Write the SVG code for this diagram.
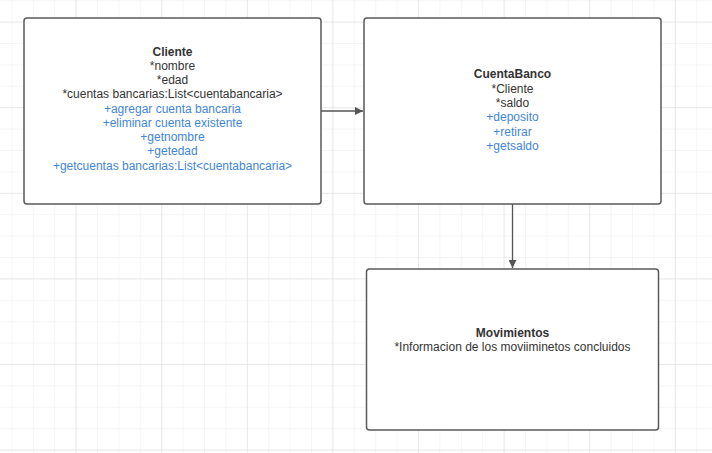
<svg xmlns="http://www.w3.org/2000/svg" width="712" height="453" viewBox="0 0 712 453">
<defs>
<pattern id="minor" x="11.4" y="0.2" width="21.4" height="21.4" patternUnits="userSpaceOnUse">
<path d="M0 0H21.4M0 0V21.4" fill="none" stroke="#ececec" stroke-width="1"/>
</pattern>
<pattern id="major" x="75.6" y="21.6" width="85.6" height="85.6" patternUnits="userSpaceOnUse">
<path d="M0 0H85.6M0 0V85.6" fill="none" stroke="#dcdcdc" stroke-width="1"/>
</pattern>
<marker id="arr" viewBox="0 0 10 10" refX="10" refY="5" markerWidth="8" markerHeight="8" markerUnits="userSpaceOnUse" orient="auto">
<path d="M0 0L10 5L0 10Z" fill="#555"/>
</marker>
<style>
.box{fill:#fff;stroke:#5a5a5a;stroke-width:1.5}
text{font-family:"Liberation Sans",Arial,sans-serif;font-size:12px;text-anchor:middle;fill:#333}
.t{font-weight:bold}
.m{fill:#3f86d9}
.edge{fill:none;stroke:#555;stroke-width:1.3}
</style>
</defs>
<rect width="712" height="453" fill="#fff"/>
<rect width="712" height="453" fill="url(#minor)"/>
<rect width="712" height="453" fill="url(#major)"/>
<g id="connectors">
<path class="edge" d="M321 111H363" marker-end="url(#arr)"/>
<path class="edge" d="M512.5 204V268" marker-end="url(#arr)"/>
</g>
<g id="cliente">
<rect class="box" x="24" y="18" width="297" height="186" rx="3"/>
<text class="t" x="172.5" y="55.5">Cliente</text>
<text x="172.5" y="69.8">*nombre</text>
<text x="172.5" y="84">*edad</text>
<text x="172.5" y="98.3">*cuentas bancarias:List&lt;cuentabancaria&gt;</text>
<text class="m" x="172.5" y="112.6">+agregar cuenta bancaria</text>
<text class="m" x="172.5" y="126.8">+eliminar cuenta existente</text>
<text class="m" x="172.5" y="141.1">+getnombre</text>
<text class="m" x="172.5" y="155.3">+getedad</text>
<text class="m" x="172.5" y="169.6">+getcuentas bancarias:List&lt;cuentabancaria&gt;</text>
</g>
<g id="cuentabanco">
<rect class="box" x="364" y="18" width="297" height="186" rx="3"/>
<text class="t" x="512.5" y="78.2">CuentaBanco</text>
<text x="512.5" y="92.5">*Cliente</text>
<text x="512.5" y="106.8">*saldo</text>
<text class="m" x="512.5" y="121.2">+deposito</text>
<text class="m" x="512.5" y="135.5">+retirar</text>
<text class="m" x="512.5" y="149.8">+getsaldo</text>
</g>
<g id="movimientos">
<rect class="box" x="366.5" y="269" width="292" height="161" rx="3"/>
<text class="t" x="512.5" y="336.5">Movimientos</text>
<text x="512.5" y="351.3">*Informacion de los moviiminetos concluidos</text>
</g>
</svg>
